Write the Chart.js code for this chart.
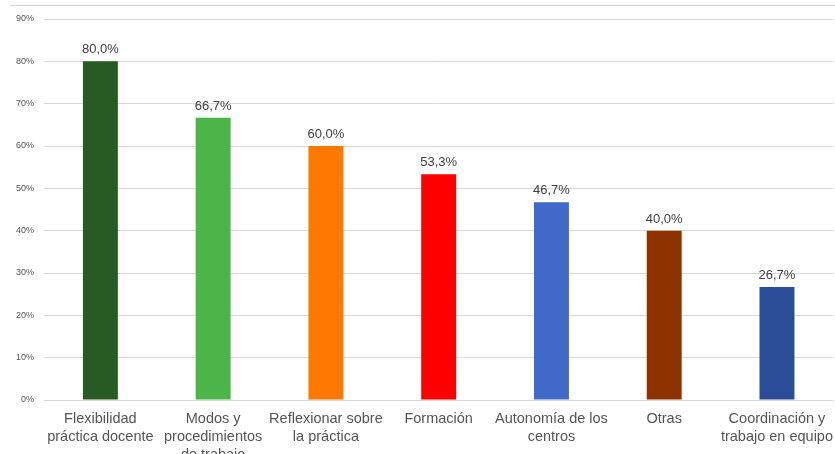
<!DOCTYPE html>
<html>
<head>
<meta charset="utf-8">
<script src="https://cdn.jsdelivr.net/npm/chart.js@4.4.0/dist/chart.umd.min.js"></script>
<style>
  html, body { margin: 0; padding: 0; background: #fff; }
  #wrap { width: 835px; height: 454px; }
</style>
</head>
<body>
<div id="wrap"><canvas id="grafico" width="835" height="454"></canvas></div>
<script>
// ========== DATOS ==========
const categorias = [
    ['Flexibilidad', 'práctica docente'],
    ['Modos y', 'procedimientos', 'de trabajo'],
    ['Reflexionar sobre', 'la práctica'],
    ['Formación'],
    ['Autonomía de los', 'centros'],
    ['Otras'],
    ['Coordinación y', 'trabajo en equipo']
];
const valores = [0.800, 0.667, 0.600, 0.533, 0.467, 0.400, 0.267];
const colores = ['#285a24', '#4db449', '#ff7800', '#ff0000', '#4169c9', '#8c3300', '#2b4c96'];

// Etiquetas encima de cada barra
const etiquetasPlugin = {
    id: 'etiquetas',
    afterDatasetsDraw(chart) {
        const ctx = chart.ctx;
        const meta = chart.getDatasetMeta(0);
        ctx.save();
        ctx.font = '13px "Liberation Sans", Arial, sans-serif';
        ctx.fillStyle = '#404040';
        ctx.textAlign = 'center';
        ctx.textBaseline = 'bottom';
        meta.data.forEach((bar, i) => {
            const txt = (valores[i] * 100).toFixed(1).replace('.', ',') + '%';
            ctx.fillText(txt, bar.x, bar.y - 5);
        });
        ctx.restore();
    }
};

// Línea superior del marco
const marcoPlugin = {
    id: 'marco',
    beforeDraw(chart) {
        const ctx = chart.ctx;
        ctx.save();
        ctx.strokeStyle = '#d4d4d4';
        ctx.lineWidth = 1;
        ctx.beginPath();
        ctx.moveTo(10, 5.5);
        ctx.lineTo(835, 5.5);
        ctx.stroke();
        ctx.restore();
    }
};

const ctx = document.getElementById('grafico').getContext('2d');
new Chart(ctx, {
    type: 'bar',
    data: {
        labels: categorias,
        datasets: [{
            data: valores,
            backgroundColor: colores,
            barPercentage: 0.31,
            categoryPercentage: 1.0
        }]
    },
    options: {
        responsive: false,
        animation: false,
        layout: { padding: { top: 19, right: 0, left: 0, bottom: 0 } },
        plugins: {
            legend: { display: false },
            tooltip: { enabled: false }
        },
        scales: {
            x: {
                grid: { display: false },
                border: { display: false },
                ticks: {
                    color: '#555555',
                    padding: 2,
                    maxRotation: 0,
                    autoSkip: false,
                    font: { family: '"Liberation Sans", Arial, sans-serif', size: 14.5, lineHeight: 1.24 }
                },
                afterFit(scale) { scale.height = 54; }
            },
            y: {
                min: 0,
                max: 0.9,
                ticks: {
                    stepSize: 0.1,
                    color: '#555555',
                    padding: 10,
                    font: { family: '"Liberation Sans", Arial, sans-serif', size: 9 },
                    callback: v => Math.round(v * 100) + '%'
                },
                grid: { color: '#d9d9d9', drawTicks: false },
                border: { display: false },
                afterFit(scale) { scale.width = 44; }
            }
        }
    },
    plugins: [etiquetasPlugin, marcoPlugin]
});
</script>
</body>
</html>
